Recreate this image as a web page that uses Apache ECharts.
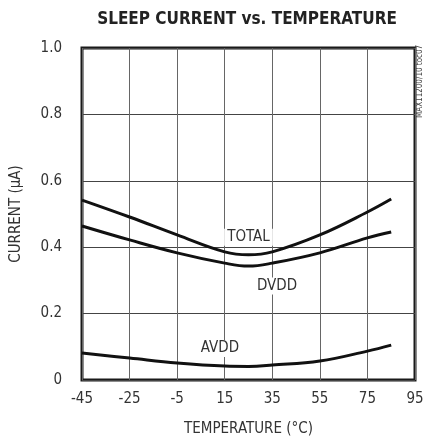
<!DOCTYPE html>
<html>
<head>
<meta charset="utf-8">
<script src="https://cdn.jsdelivr.net/npm/echarts@6/dist/echarts.min.js"></script>
<style>
  html, body { margin: 0; padding: 0; background: #fff; }
  #chart { width: 424px; height: 439px; }
</style>
</head>
<body>
<div id="chart"></div>
<script>
// temperatures (°C)
var temps = [-45, -25, -5, 15, 25, 35, 55, 75, 85];
// currents in µA
var totalCurrent = [0.542, 0.491, 0.437, 0.386, 0.377, 0.386, 0.437, 0.506, 0.545];
var dvddCurrent = [0.464, 0.422, 0.383, 0.352, 0.343, 0.352, 0.383, 0.428, 0.446];
var avddCurrent = [0.081, 0.066, 0.051, 0.042, 0.041, 0.045, 0.057, 0.087, 0.105];

var font = '"DejaVu Sans Condensed", "Liberation Sans", sans-serif';

function pairs(ys) {
  return temps.map(function (t, i) { return [t, ys[i]]; });
}

function curve(name, ys, labelAt) {
  return {
    name: name,
    type: 'line',
    smooth: 0.4,
    showSymbol: false,
    data: pairs(ys),
    lineStyle: { color: '#111', width: 3 },
    markPoint: {
      symbol: 'circle',
      symbolSize: 0,
      data: [{ coord: labelAt }],
      label: {
        show: true,
        formatter: name,
        color: '#333',
        fontFamily: font,
        fontSize: 15,
        backgroundColor: '#fff',
        padding: [1, 3]
      }
    }
  };
}

var chart = echarts.init(document.getElementById('chart'));
chart.setOption({
  animation: false,
  graphic: [{
    type: 'text',
    x: 247,
    y: 20,
    style: {
      text: 'SLEEP CURRENT vs. TEMPERATURE',
      align: 'center', verticalAlign: 'middle',
      fontFamily: font, fontWeight: 'bold', fontSize: 17, fill: '#222'
    }
  }, {
    // figure code along the right edge, reading upwards
    type: 'text',
    x: 424,
    y: 118,
    rotation: Math.PI / 2,
    style: {
      text: 'MAX11200/10 toc07', align: 'left', verticalAlign: 'bottom',
      fontSize: 8, fontFamily: font, fill: '#444'
    }
  }],
  grid: {
    left: 82, right: 9, top: 48, bottom: 59,
    outerBoundsMode: 'none',
    containLabel: false,
    show: true, borderColor: '#1a1a1a', borderWidth: 3, backgroundColor: 'transparent'
  },
  xAxis: {
    type: 'value',
    min: -45, max: 95, interval: 20,
    name: 'TEMPERATURE (°C)',
    nameLocation: 'middle',
    nameGap: 42,
    nameTextStyle: { fontFamily: font, fontSize: 15, color: '#333' },
    axisLine: { show: false },
    axisTick: { show: false },
    axisLabel: { fontFamily: font, fontSize: 15, color: '#333', margin: 12 },
    splitLine: { lineStyle: { color: '#666', width: 1 } }
  },
  yAxis: {
    type: 'value',
    min: 0, max: 1, interval: 0.2,
    name: 'CURRENT (µA)',
    nameLocation: 'middle',
    nameGap: 58,
    nameTextStyle: { fontFamily: font, fontSize: 15, color: '#333' },
    axisLine: { show: false },
    axisTick: { show: false },
    axisLabel: {
      fontFamily: font, fontSize: 15, color: '#333', margin: 20,
      formatter: function (v) { return v === 0 ? '0' : v.toFixed(1); }
    },
    splitLine: { lineStyle: { color: '#444', width: 1 } }
  },
  series: [
    curve('TOTAL', totalCurrent, [25, 0.43]),
    curve('DVDD', dvddCurrent, [37, 0.283]),
    curve('AVDD', avddCurrent, [13, 0.095])
  ]
});
</script>
</body>
</html>
